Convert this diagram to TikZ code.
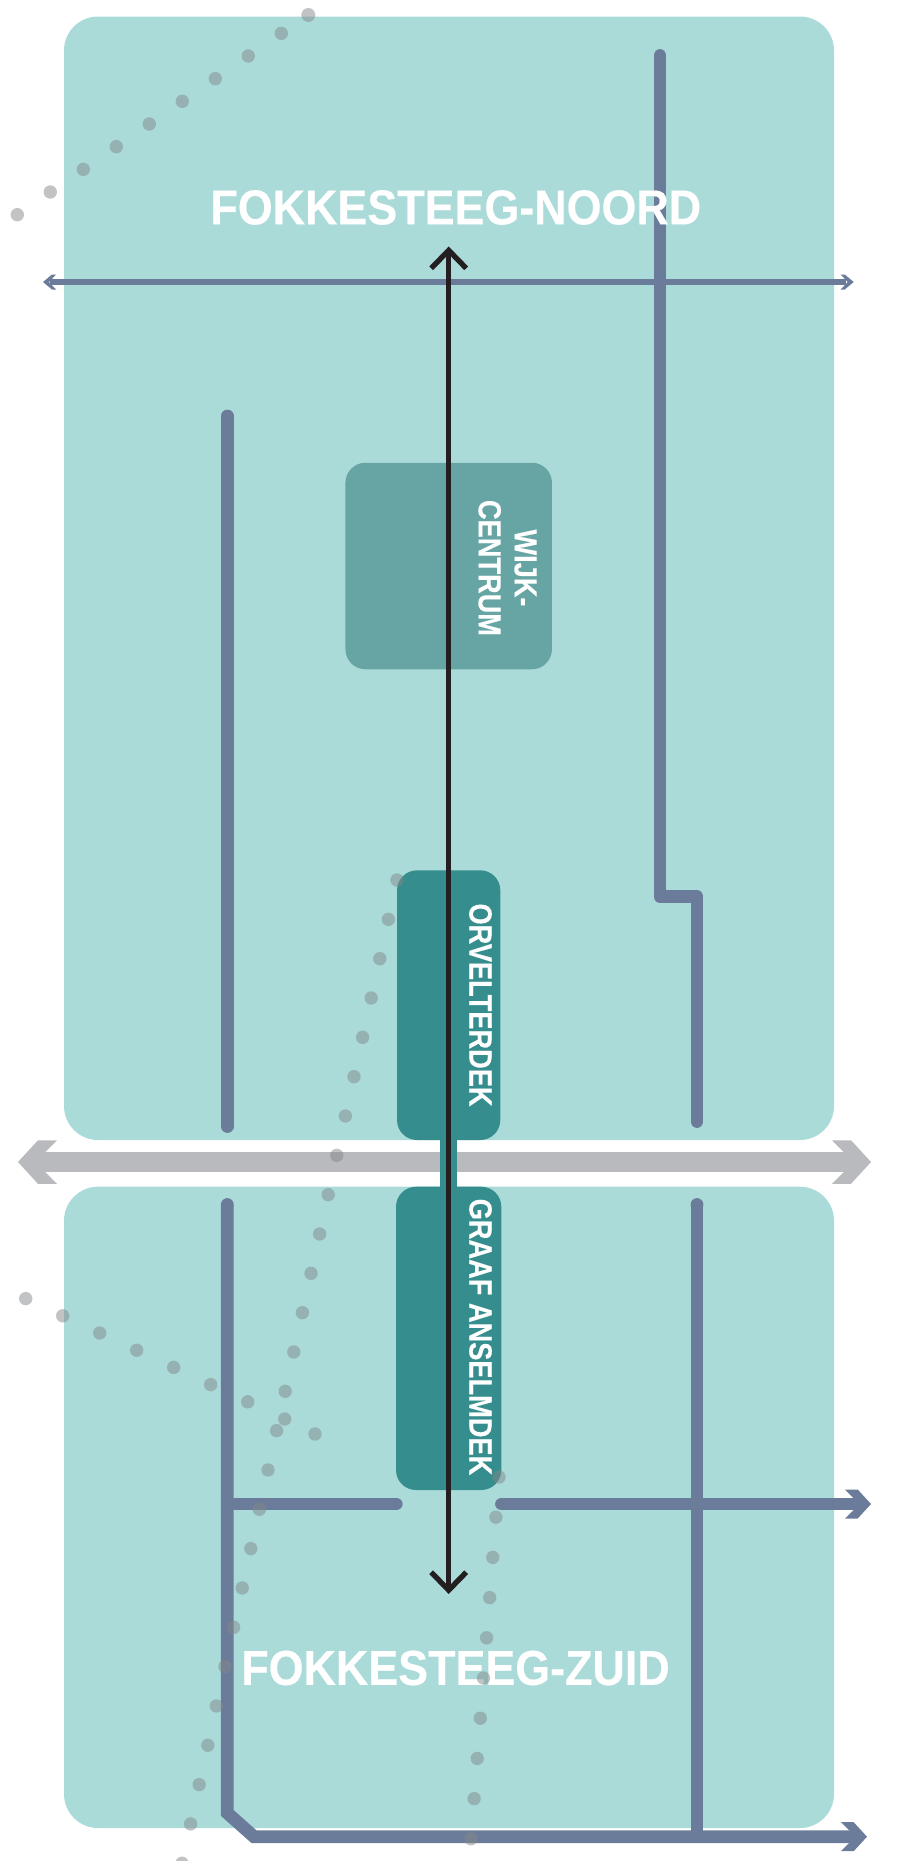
\documentclass[tikz,border=0pt]{standalone}
\usepackage{fontspec}
\setmainfont{Liberation Sans}
\newfontfamily\titlesf[FakeStretch=0.915,FakeBold=0.3]{Liberation Sans}
\newfontfamily\decksf[FakeStretch=0.85,FakeBold=0.3]{Liberation Sans}
\usetikzlibrary{arrows.meta}
\definecolor{panelteal}{HTML}{AADBD9}
\definecolor{deckteal}{HTML}{358D8D}
\definecolor{centreteal}{HTML}{67A5A4}
\definecolor{roadblue}{HTML}{6B7C9A}
\definecolor{ringgrey}{HTML}{B9BABE}
\definecolor{pathblack}{HTML}{231F20}
\definecolor{stopgrey}{HTML}{84888A}
\tikzset{
	panel/.style={fill=panelteal, rounded corners=34pt, inner sep=0pt},
	deck/.style={fill=deckteal, rounded corners=20pt, inner sep=0pt, minimum width=104pt},
	road/.style={draw=roadblue, line width=12.8pt, line cap=round, line join=round},
	thinroad/.style={draw=roadblue, line width=6.8pt},
	stop/.style={circle, fill=stopgrey, opacity=.5, minimum size=13.4pt, inner sep=0pt},
	chevron/.pic={\fill (0,0) -- (-13.3,14.5) -- (-26,14.5) -- (-11.5,0) -- (-26,-14.5) -- (-13.3,-14.5) -- cycle;},
	smallchevron/.pic={\fill (0,0) -- (-9,7.5) -- (-13,7.5) -- (-6,0) -- (-13,-7.5) -- (-9,-7.5) -- cycle;},
	title/.style={text=white, font=\titlesf\bfseries\fontsize{49}{49}\selectfont, inner sep=0pt},
	decklabel/.style={text=white, font=\decksf\bfseries\fontsize{32}{36}\selectfont, inner sep=0pt, rotate=-90, align=center}
}

\begin{document}
\begin{tikzpicture}[x=1pt, y=-1pt]
	  \useasboundingbox (0,0) rectangle (921,1861);
	  % Neighbourhoods
	  \node [panel, minimum width=770pt, minimum height=1123.5pt] (noord) at (449,578.25) {};
	  \node [panel, minimum width=770pt, minimum height=641.3pt] (zuid) at (449,1507.35) {};
	  % Ring road
	  \coordinate (ringwest) at (35,1162);
	  \coordinate (ringeast) at (855,1162);
	  \draw [ringgrey, line width=19.5pt] (ringwest) -- (ringeast);
	  \path [ringgrey] (18,1162) pic [scale=1.5, rotate=180] {chevron};
	  \path [ringgrey] (871,1162) pic [scale=1.5] {chevron};
	  % Decks
	  \node [deck, minimum height=269.7pt, minimum width=103.3pt] (orvelter) at (448.65,1005.15) {};
	  \node [deck, minimum height=303.3pt, minimum width=105.3pt] (graaf) at (448.65,1338.35) {};
	  \draw [deckteal, line width=17.3pt] (orvelter) -- (graaf);
	  \node [fill=centreteal, rounded corners=20pt, inner sep=0pt, minimum size=206.5pt] (wijk) at (448.7,566) {};
	  % Roads in the north
	  \coordinate (n1) at (660,55.5);
	  \coordinate (n2) at (697,896.7);
	  \coordinate (n3) at (697,1121.5);
	  \coordinate (n4) at (227.3,416);
	  \coordinate (n5) at (227.3,1126.5);
	  \coordinate (crosswest) at (50,282);
	  \coordinate (crosseast) at (846,282);
	  \draw [road] (n1) |- (n2) -- (n3);
	  \draw [road] (n4) -- (n5);
	  \draw [thinroad] (crosswest) -- (crosseast);
	  \path [roadblue] (43,282) pic [rotate=180] {smallchevron};
	  \path [roadblue] (853.7,282) pic {smallchevron};
	  % Roads in the south
	  \coordinate (s1) at (227.3,1204.5);
	  \coordinate (s2) at (227.3,1813);
	  \coordinate (s3) at (254,1836.7);
	  \coordinate (s4) at (858,1836.7);
	  \coordinate (s5) at (697,1204.5);
	  \coordinate (s6) at (697,1836.7);
	  \coordinate (s7) at (227.3,1504);
	  \coordinate (s8) at (396.2,1504);
	  \coordinate (s9) at (501.5,1504);
	  \coordinate (s10) at (861,1504);
	  \draw [road, line cap=butt, line join=miter] (s1) -- (s2) -- (s3) -- (s4);
	  \fill [roadblue] (s1) circle (6.4pt);
	  \draw [road, line cap=butt] (s6) -- (s5);
	  \fill [roadblue] (s5) circle (6.4pt);
	  \draw [road] (s7) -- (s8);
	  \draw [road] (s9) -- (s10);
	  \path [roadblue] (867,1836.7) pic {chevron};
	  \path [roadblue] (871,1504) pic {chevron};
	  % Names
	  \node [title] (noordlabel) at (455.8,207.5) {FOKKESTEEG-NOORD};
	  \node [title] (zuidlabel) at (455.5,1668) {FOKKESTEEG-ZUID};
	  \node [decklabel] (wijklabel) at (507.5,568) {WIJK-\\CENTRUM};
	  \node [decklabel] (orvelterlabel) at (480.5,1005) {ORVELTERDEK};
	  \node [decklabel] (graaflabel) at (480.5,1337) {GRAAF ANSELMDEK};
	  % Route through the decks
	  \coordinate (routenorth) at (448.7,246.5);
	  \coordinate (routesouth) at (448.7,1594);
	  \draw [pathblack, line width=5.3pt, {Straight Barb[length=18pt,width=35pt]}-{Straight Barb[length=18pt,width=35pt]}] (routenorth) -- (routesouth);
	  % Stops
	  \foreach \i in {0,...,7} \node [stop] (a\i) at (50.3+33*\i,192-22.67*\i) {};
	  \node [stop] (a8) at (17.3,214.7) {};
	  \node [stop, minimum size=14pt] (a9) at (308.3,15) {};
	  \foreach \i in {0,...,25} \node [stop] (b\i) at (397-8.6*\i,880+39.33*\i) {};
	  \foreach \i in {0,...,7} \node [stop] (c\i) at (25.7+37*\i,1298.6+17.2*\i) {};
	  \node [stop] (c8) at (315,1434) {};
	  \foreach \i in {0,...,9} \node [stop] (d\i) at (499-3.11*\i,1477+40.2*\i) {};
	 \end{tikzpicture}
\end{document}
